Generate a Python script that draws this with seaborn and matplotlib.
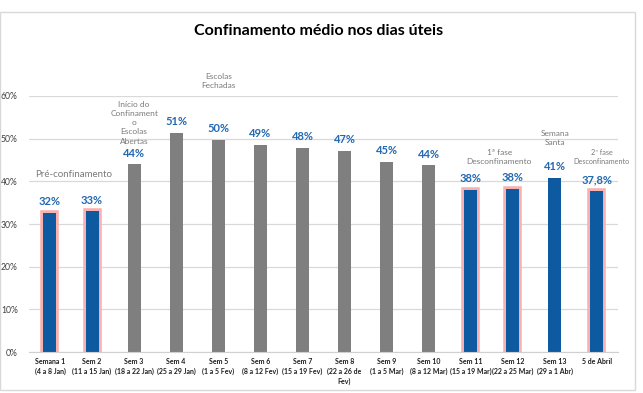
import matplotlib
matplotlib.use("Agg")
import matplotlib.pyplot as plt
import matplotlib.patheffects as pe
import seaborn as sns
import pandas as pd
from matplotlib.patches import Rectangle

categories = ["Semana 1\n(4 a 8 Jan)", "Sem 2\n(11 a 15 Jan)", "Sem 3\n(18 a 22 Jan)",
              "Sem 4\n(25 a 29 Jan)", "Sem 5\n(1 a 5 Fev)", "Sem 6\n(8 a 12 Fev)",
              "Sem 7\n(15 a 19 Fev)", "Sem 8\n(22 a 26 de\nFev)", "Sem 9\n(1 a 5 Mar)",
              "Sem 10\n(8 a 12 Mar)", "Sem 11\n(15 a 19 Mar)", "Sem 12\n(22 a 25 Mar)",
              "Sem 13\n(29 a 1 Abr)", "5 de Abril"]
values = [32.6, 33.0, 44.0, 51.3, 49.7, 48.5, 47.9, 47.2, 44.6, 43.8, 38.0, 38.2, 40.8, 37.8]
labels = ["32%", "33%", "44%", "51%", "50%", "49%", "48%", "47%", "45%", "44%",
          "38%", "38%", "41%", "37,8%"]
groups = ["fora", "fora", "confinamento", "confinamento", "confinamento", "confinamento",
          "confinamento", "confinamento", "confinamento", "confinamento",
          "fora", "fora", "fora", "fora"]
highlight = [True, True, False, False, False, False, False, False, False, False,
             True, True, False, True]
yticks = [0, 10, 20, 30, 40, 50, 60]
annotations = [
    (0.57, 40.6, "Pré-confinamento", 7),
    (2.0, 48.6, "Início do\nConfinament\no\nEscolas\nAbertas", 6),
    (4.0, 61.5, "Escolas\nFechadas", 6),
    (10.68, 43.8, "1ª fase\nDesconfinamento", 6),
    (12.0, 48.2, "Semana\nSanta", 6),
    (13.12, 43.9, "2ª fase\nDesconfinamento", 5.2),
]

df = pd.DataFrame({"cat": categories, "val": values, "grp": groups})

sns.set_style("white")
plt.rcParams["font.family"] = ["Lato", "DejaVu Sans"]

fig = plt.figure(figsize=(6.43, 3.93), dpi=100)
ax = fig.add_axes([0.045, 0.104, 0.916, 0.652])

blue = "#0E5AA0"
gray = "#7F7F7F"
sns.barplot(data=df, x="cat", y="val", hue="grp",
            palette={"fora": blue, "confinamento": gray},
            dodge=False, width=0.31, legend=False, ax=ax, saturation=1)

for p in ax.patches:
    if p.get_height() <= 0:
        continue
    idx = int(round(p.get_x() + p.get_width() / 2))
    p.set_linewidth(0)
    if highlight[idx]:
        p.set_path_effects([pe.withStroke(linewidth=4.0, foreground="#F9B0B0")])

for i, (v, lab) in enumerate(zip(values, labels)):
    ax.text(i, v + 1.3, lab, ha="center", va="bottom", fontsize=8,
            fontweight="bold", color="#2468B0")

for x, y, t, fs in annotations:
    ax.text(x, y, t, ha="center", va="bottom", fontsize=fs, color="#7A7A7A",
            linespacing=1.35, clip_on=False)

ax.set_ylim(0, 60)
ax.set_xlim(-0.5, len(categories) - 0.5)
ax.set_yticks(yticks)
ax.set_yticklabels([f"{t}%" for t in yticks], fontsize=6.2, color="#404040")
ax.set_xticks(range(len(categories)))
ax.set_xticklabels(categories, fontsize=5.0, fontweight="bold", color="#202020",
                   linespacing=1.5)
ax.tick_params(axis="both", length=0, pad=4)
ax.tick_params(axis="y", pad=8)
ax.grid(axis="y", color="#D9D9D9", linewidth=0.9)
ax.set_axisbelow(True)
for s in ["top", "right", "left"]:
    ax.spines[s].set_visible(False)
ax.spines["bottom"].set_color("#D0D0D0")
ax.set_xlabel("")
ax.set_ylabel("")

fig.text(0.495, 0.92, "Confinamento médio nos dias úteis", ha="center", va="center",
         fontsize=11.5, fontweight="bold", color="black")

fig.patches.append(Rectangle((0.0, 0.008), 0.988, 0.962, transform=fig.transFigure,
                             fill=False, edgecolor="#D9D9D9", linewidth=1))

fig.savefig("out.png", dpi=100)
